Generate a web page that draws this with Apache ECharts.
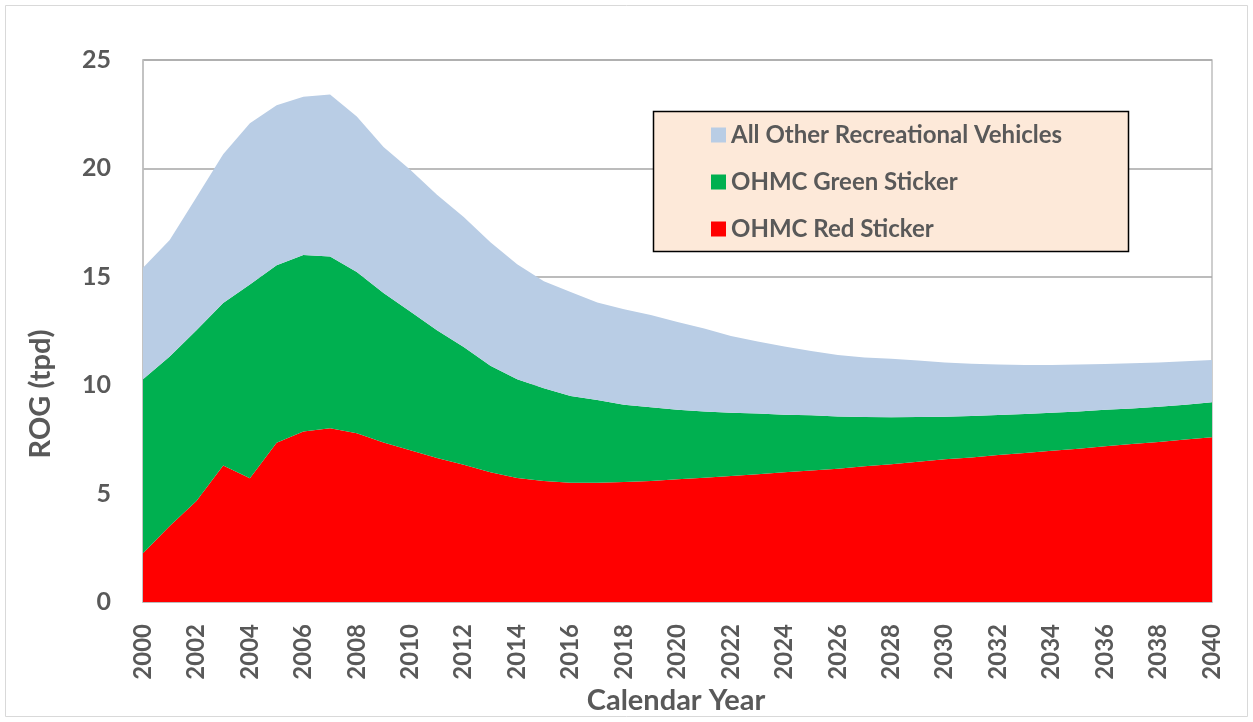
<!DOCTYPE html>
<html>
<head>
<meta charset="utf-8">
<script src="https://cdn.jsdelivr.net/npm/echarts@6/dist/echarts.min.js"></script>
<style>
html,body{margin:0;padding:0;background:#fff;}
#chart{width:1253px;height:722px;}
</style>
</head>
<body>
<div id="chart"></div>
<script>
const years = [];
for (let y = 2000; y <= 2040; y++) years.push(String(y));

const redSticker = [2.25,3.50,4.66,6.30,5.71,7.35,7.86,8.02,7.78,7.36,7.00,6.64,6.33,5.99,5.72,5.58,5.50,5.50,5.54,5.58,5.66,5.73,5.81,5.89,5.98,6.06,6.15,6.26,6.35,6.47,6.58,6.67,6.78,6.87,6.98,7.07,7.18,7.29,7.38,7.49,7.60];
const greenSticker = [8.03,7.82,7.88,7.49,8.93,8.18,8.14,7.92,7.44,6.89,6.40,5.90,5.43,4.91,4.56,4.28,4.00,3.82,3.56,3.40,3.21,3.06,2.92,2.80,2.66,2.55,2.41,2.27,2.17,2.06,1.97,1.91,1.85,1.80,1.75,1.72,1.69,1.64,1.63,1.61,1.61];
const otherRV = [5.14,5.38,6.13,6.86,7.44,7.38,7.30,7.47,7.17,6.74,6.54,6.24,6.00,5.69,5.30,4.94,4.80,4.49,4.40,4.26,4.05,3.83,3.54,3.32,3.14,2.97,2.83,2.75,2.70,2.61,2.50,2.41,2.32,2.26,2.20,2.16,2.11,2.08,2.04,2.00,1.95];

const seriesNames = ['All Other Recreational Vehicles','OHMC Green Sticker','OHMC Red Sticker'];
const yTicks = [0,5,10,15,20,25];

const FONT = 'Lato';
const TXT = '#595959';

const chart = echarts.init(document.getElementById('chart'), null, {renderer:'canvas'});

function area(name, data, color) {
  return {
    name: name, type: 'line', stack: 'total', data: data,
    symbol: 'none', smooth: false,
    lineStyle: {width: 0, color: color},
    itemStyle: {color: color},
    areaStyle: {color: color, opacity: 1},
    emphasis: {disabled: true}
  };
}

chart.setOption({
  animation: false,
  backgroundColor: '#ffffff',
  grid: {left: 143, right: 41, top: 60, bottom: 120, show: true, borderColor: '#BFBFBF', borderWidth: 1.5, backgroundColor: 'transparent'},
  xAxis: {
    type: 'category', data: years, boundaryGap: false,
    axisLine: {show: true, lineStyle: {color: '#BFBFBF', width: 1.5}},
    axisTick: {show: false},
    axisLabel: {interval: 1, rotate: 90, margin: 22, color: TXT, fontFamily: FONT, fontWeight: 'bold', fontSize: 24},
    splitLine: {show: false}
  },
  yAxis: {
    type: 'value', min: yTicks[0], max: yTicks[yTicks.length-1], interval: 5,
    axisLine: {show: true, lineStyle: {color: '#BFBFBF', width: 1.5}},
    axisTick: {show: false},
    axisLabel: {margin: 32, color: TXT, fontFamily: FONT, fontWeight: 'bold', fontSize: 25},
    splitLine: {show: true, lineStyle: {color: '#A6A6A6', width: 1.5}}
  },
  legend: {
    data: seriesNames, orient: 'vertical', left: 711, top: 123, z: 10,
    icon: 'rect', itemWidth: 15, itemHeight: 15, itemGap: 23,
    padding: 0,
    textStyle: {color: TXT, fontFamily: FONT, fontWeight: 'bold', fontSize: 24, lineHeight: 22},
    selectedMode: false
  },
  graphic: [
    {type: 'rect', z: 0, silent: true, shape: {x: 5.5, y: 5.5, width: 1242, height: 711}, style: {fill: 'none', stroke: '#D9D9D9', lineWidth: 1}},
    {type: 'rect', z: 5, silent: true, shape: {x: 653.5, y: 111.5, width: 475, height: 140}, style: {fill: '#FDE9D9', stroke: '#000000', lineWidth: 1.5}},
    {type: 'text', z: 10, silent: true, x: 676, y: 701, style: {text: 'Calendar Year', x: 0, y: 0, textAlign: 'center', textVerticalAlign: 'middle', fill: TXT, font: 'bold 29px Lato'}},
    {type: 'text', z: 10, silent: true, rotation: Math.PI/2, x: 41, y: 394, style: {text: 'ROG (tpd)', x: 0, y: 0, textAlign: 'center', textVerticalAlign: 'middle', fill: TXT, font: 'bold 29px Lato'}}
  ],
  series: [
    area(seriesNames[2], redSticker, '#FF0000'),
    area(seriesNames[1], greenSticker, '#00B050'),
    area(seriesNames[0], otherRV, '#B9CDE5')
  ]
});
</script>
</body>
</html>
